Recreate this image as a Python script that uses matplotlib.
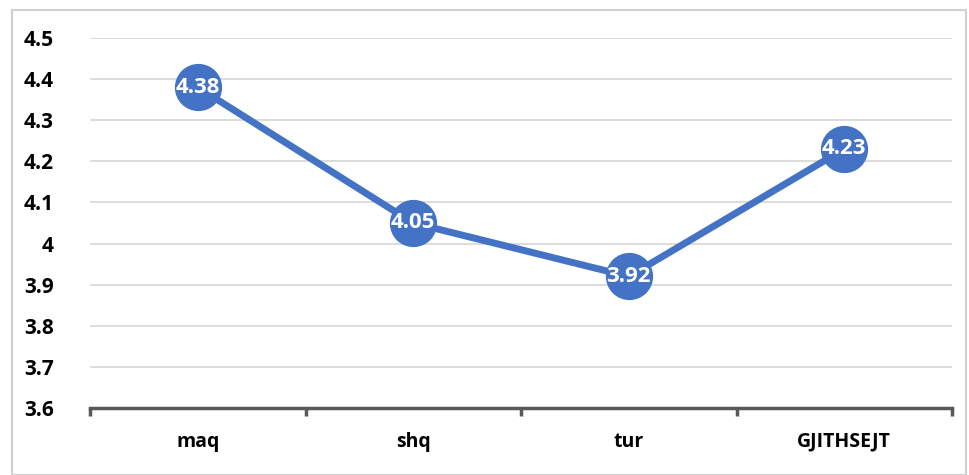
import matplotlib
matplotlib.use("Agg")
import matplotlib.pyplot as plt
from matplotlib.patches import Rectangle

categories = ["maq", "shq", "tur", "GJITHSEJT"]
values = [4.38, 4.05, 3.92, 4.23]
yticks = [3.6, 3.7, 3.8, 3.9, 4.0, 4.1, 4.2, 4.3, 4.4, 4.5]
ytick_labels = ["3.6", "3.7", "3.8", "3.9", "4", "4.1", "4.2", "4.3", "4.4", "4.5"]

plt.rcParams["font.family"] = ["Open Sans", "DejaVu Sans"]
blue = "#4472C4"

fig = plt.figure(figsize=(9.69, 4.75), dpi=100)
fig.patches.append(Rectangle((12 / 969, 0.0), 954 / 969, 465 / 475, transform=fig.transFigure,
                             fill=False, edgecolor="#d0d0d0", linewidth=1.5))
ax = fig.add_axes([90 / 969, 67 / 475, 862 / 969, 370 / 475])

x = list(range(len(categories)))
ax.plot(x, values, color=blue, linewidth=5, marker="o", markersize=33,
        markerfacecolor=blue, markeredgecolor=blue, zorder=3)
for xi, v in zip(x, values):
    ax.text(xi, v, f"{v:.2f}", color="white", fontsize=16, fontweight="bold",
            ha="center", va="center", zorder=4)

ax.set_xlim(-0.5, len(categories) - 0.5)
ax.set_ylim(3.6, 4.5)
ax.set_yticks(yticks)
ax.set_yticklabels(ytick_labels, fontsize=15, fontweight="bold")
ax.yaxis.grid(True, color="#d9d9d9", linewidth=1.3)
ax.set_axisbelow(True)
ax.tick_params(axis="y", length=0, pad=26)

ax.set_xticks(x)
ax.set_xticklabels(categories, fontsize=14, fontweight="bold")
ax.set_xticks([i - 0.5 for i in range(len(categories) + 1)], minor=True)
ax.tick_params(axis="x", which="major", length=0, pad=17)
ax.tick_params(axis="x", which="minor", length=6, width=2.5, color="#595959")

for side in ("top", "right", "left"):
    ax.spines[side].set_visible(False)
ax.spines["bottom"].set_color("#595959")
ax.spines["bottom"].set_linewidth(2.5)

fig.savefig("out.png", dpi=100)
